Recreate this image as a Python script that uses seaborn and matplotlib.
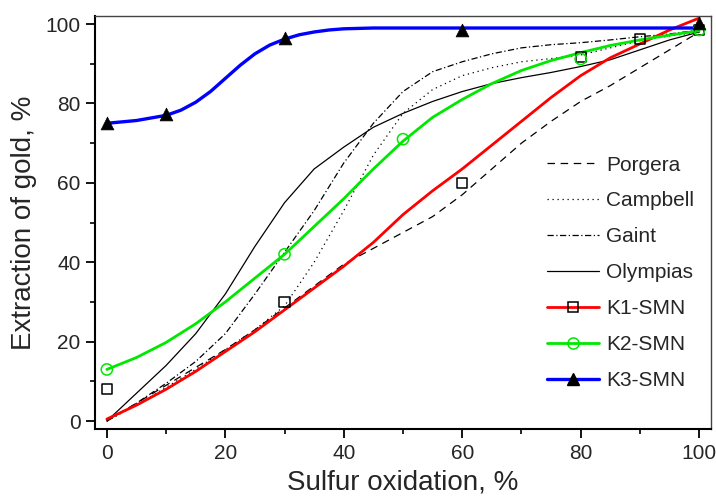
import matplotlib
matplotlib.use("Agg")
import matplotlib.pyplot as plt
from matplotlib.lines import Line2D
from matplotlib.ticker import MultipleLocator
import pandas as pd
import seaborn as sns

# Sulfur oxidation grid for the literature curves (%)
x_curve = [0, 5, 10, 15, 20, 25, 30, 35, 40, 45, 50,
           55, 60, 65, 70, 75, 80, 85, 90, 95, 100]

# Literature curves (gold extraction, %)
porgera = [0, 4.5, 9, 13.5, 18, 23, 28.5, 34, 39.5, 43.5, 47.5,
           51.5, 57, 63.5, 70, 75.5, 80.5, 84.5, 89, 93.5, 98]
campbell = [0, 4, 8.5, 13, 18, 23, 29, 40, 53, 67, 77.5,
            83.5, 87, 89, 90.5, 91.3, 92.2, 94, 95.8, 97, 98]
gaint = [0, 4.5, 9.5, 15, 22, 32, 42.5, 53, 65, 75, 83,
         88, 90.5, 92.5, 94, 94.8, 95.3, 96, 96.8, 97.5, 98.5]
olympias = [0, 7, 14, 22, 32, 44, 55, 63.5, 69, 74, 77.5,
            80.5, 83, 85, 86.5, 87.8, 89.3, 91, 93.5, 96, 98]

# Fitted curves for the K1 and K2 samples
k1_fit = [0.5, 4, 8, 12.5, 17.5, 22.5, 28, 33.5, 39, 45, 52,
          58, 63.5, 69.5, 75.5, 81.5, 87, 91.5, 95, 98.5, 101.5]
k2_fit = [13, 16, 19.8, 24.5, 30, 36, 42, 49, 56, 63.5, 70.5,
          76.5, 81, 85, 88.3, 90.8, 92.8, 94.6, 96, 97.2, 98.3]

# Fitted curve for the K3 sample (finer steps through the rise)
k3_fit_x = [0, 5, 10, 12.5, 15, 17.5, 20, 22.5, 25, 27.5, 30,
            32.5, 35, 37.5, 40, 45, 50, 100]
k3_fit_y = [75, 75.7, 77, 78.3, 80.3, 83, 86.3, 89.6, 92.5, 94.7, 96.2,
            97.3, 98, 98.5, 98.8, 99, 99, 99]

# Measured points
k1_x = [0, 30, 60, 80, 90, 100]
k1_y = [8, 30, 60, 91.7, 96.2, 98.5]
k2_x = [0, 30, 50, 80, 100]
k2_y = [13, 42, 71, 91.2, 98.5]
k3_x = [0, 10, 30, 60, 100]
k3_y = [75, 77.3, 96.5, 98.5, 100.3]

sns.set_style("ticks")
plt.rcParams["font.family"] = ["Liberation Sans", "DejaVu Sans"]

fig = plt.figure(figsize=(7.16, 4.97), dpi=100)
ax = fig.add_axes([95 / 716, 1 - 429 / 497, (711 - 95) / 716, (429 - 15.7) / 497])

curves = pd.DataFrame({"x": x_curve, "Porgera": porgera, "Campbell": campbell,
                       "Gaint": gaint, "Olympias": olympias,
                       "K1": k1_fit, "K2": k2_fit})
k3_curve = pd.DataFrame({"x": k3_fit_x, "K3": k3_fit_y})

ref_styles = {
    "Porgera": (0, (6, 4.5)),
    "Campbell": (0, (1, 3)),
    "Gaint": (0, (5, 2, 1, 2)),
    "Olympias": "-",
}
for name, ls in ref_styles.items():
    sns.lineplot(data=curves, x="x", y=name, ax=ax, color="black",
                 linewidth=0.9, linestyle=ls, zorder=2)

RED, GREEN, BLUE = "#ff0000", "#00e800", "#0000ff"
sns.lineplot(data=curves, x="x", y="K1", ax=ax, color=RED, linewidth=2.0, zorder=3)
sns.lineplot(data=curves, x="x", y="K2", ax=ax, color=GREEN, linewidth=2.0, zorder=3)
sns.lineplot(data=k3_curve, x="x", y="K3", ax=ax, color=BLUE, linewidth=2.4, zorder=3)

sns.scatterplot(x=k1_x, y=k1_y, ax=ax, marker="s", s=55, facecolor="none",
                edgecolor="black", linewidth=1.1, zorder=4)
sns.scatterplot(x=k2_x, y=k2_y, ax=ax, marker="o", s=65, facecolor="none",
                edgecolor=GREEN, linewidth=1.1, zorder=4)
sns.scatterplot(x=k3_x, y=k3_y, ax=ax, marker="^", s=85, color="black",
                edgecolor="black", linewidth=0.5, zorder=5)

ax.set_xlim(-2, 102)
ax.set_ylim(-2, 102.1)
ax.xaxis.set_major_locator(MultipleLocator(20))
ax.xaxis.set_minor_locator(MultipleLocator(10))
ax.yaxis.set_major_locator(MultipleLocator(20))
ax.yaxis.set_minor_locator(MultipleLocator(10))
ax.tick_params(which="major", direction="out", length=6.5, width=1.3,
               labelsize=15, pad=4, color="black")
ax.tick_params(which="minor", direction="out", length=3.5, width=1.2, color="black")
ax.tick_params(top=False, right=False, which="both")

for side in ("left", "bottom"):
    ax.spines[side].set_linewidth(1.5)
    ax.spines[side].set_color("black")
for side in ("top", "right"):
    ax.spines[side].set_linewidth(1.0)
    ax.spines[side].set_color("#444444")

ax.set_xlabel("Sulfur oxidation, %", fontsize=20, labelpad=5)
ax.set_ylabel("Extraction of gold, %", fontsize=20, labelpad=6)

handles = [
    Line2D([], [], color="black", lw=0.9, ls=(0, (6, 4.5))),
    Line2D([], [], color="black", lw=0.9, ls=(0, (1, 3))),
    Line2D([], [], color="black", lw=0.9, ls=(0, (5, 2, 1, 2))),
    Line2D([], [], color="black", lw=0.9, ls="-"),
    Line2D([], [], color=RED, lw=2.0, marker="s", ms=7, mfc="none",
           mec="black", mew=1.1),
    Line2D([], [], color=GREEN, lw=2.0, marker="o", ms=8, mfc="none",
           mec=GREEN, mew=1.1),
    Line2D([], [], color=BLUE, lw=2.4, marker="^", ms=9, mfc="black",
           mec="black"),
]
labels = ["Porgera", "Campbell", "Gaint", "Olympias", "K1-SMN", "K2-SMN", "K3-SMN"]
fig.legend(handles, labels, loc="center left",
           bbox_to_anchor=(547 / 716, 1 - 272.7 / 497), frameon=False,
           fontsize=15, handlelength=2.5, handletextpad=0.35,
           labelspacing=0.81, borderpad=0, borderaxespad=0)

fig.savefig("out.png", dpi=100)
